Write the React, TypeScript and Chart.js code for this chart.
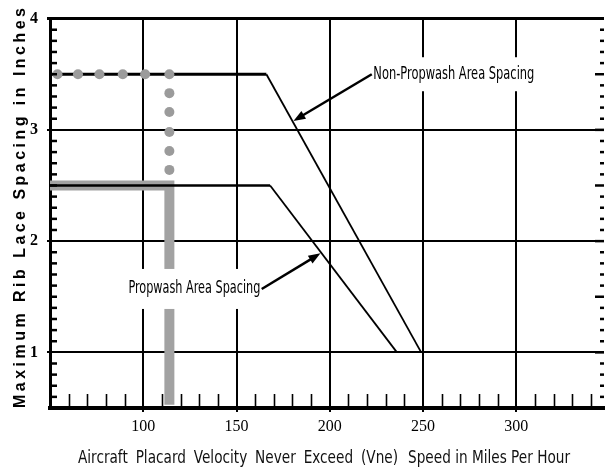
import React, { useEffect, useRef } from "react";
import { Chart, registerables } from "chart.js";

Chart.register(...registerables);

// ---- Axis definitions ----
const xTickValues = [100, 150, 200, 250, 300];
const yTickValues = [1, 2, 3, 4];
const xMin = 50;
const xMax = 347;
const yMin = 0.5;
const yMax = 4;

// ---- Series ----
const nonPropwashX = [50, 166, 249];
const nonPropwashY = [3.5, 3.5, 1];
const propwashX = [50, 168, 236];
const propwashY = [2.5, 2.5, 1];

// grey dotted guide (read-off example for non-propwash)
const guideDotsX = [54, 65, 76.5, 89, 101, 114, 114, 114, 114, 114, 114];
const guideDotsY = [3.5, 3.5, 3.5, 3.5, 3.5, 3.5, 3.33, 3.16, 2.98, 2.81, 2.64];
// grey solid guide (read-off example for propwash)
const guideBarX = [50, 114, 114];
const guideBarY = [2.5, 2.5, 0.53];

// ---- Annotations (data units) ----
const labelTexts = ["Non-Propwash Area Spacing", "Propwash Area Spacing"];
const labelCenterX = [266.5, 127.4];
const labelCenterY = [3.5, 1.57];
const arrowFromX = [222.5, 163.5];
const arrowFromY = [3.5, 1.57];
const arrowToX = [180.5, 195];
const arrowToY = [3.08, 1.89];

const xTitleA = "Aircraft Placard Velocity Never Exceed (Vne)";
const xTitleB = "Speed in Miles Per Hour";
const yTitle = "Maximum Rib Lace Spacing in Inches";

const NARROW = '"Liberation Sans Narrow", "DejaVu Sans Condensed", "Arial Narrow", sans-serif';

const pts = (xs: number[], ys: number[]) => xs.map((x, i) => ({ x, y: ys[i] }));

function drawFitted(ctx: CanvasRenderingContext2D, text: string, cx: number, cy: number, width: number, font: string) {
  ctx.save();
  ctx.font = font;
  const w = ctx.measureText(text).width;
  ctx.translate(cx, cy);
  ctx.scale(width / w, 1);
  ctx.textAlign = "center";
  ctx.textBaseline = "middle";
  ctx.fillStyle = "#000";
  ctx.fillText(text, 0, 0);
  ctx.restore();
}

function drawArrow(ctx: CanvasRenderingContext2D, x0: number, y0: number, x1: number, y1: number) {
  const ang = Math.atan2(y1 - y0, x1 - x0);
  const head = 12;
  const half = 4.5;
  ctx.save();
  ctx.strokeStyle = "#000";
  ctx.fillStyle = "#000";
  ctx.lineWidth = 2.5;
  ctx.beginPath();
  ctx.moveTo(x0, y0);
  ctx.lineTo(x1 - Math.cos(ang) * head * 0.8, y1 - Math.sin(ang) * head * 0.8);
  ctx.stroke();
  ctx.beginPath();
  ctx.moveTo(x1, y1);
  ctx.lineTo(x1 - Math.cos(ang) * head - Math.sin(ang) * half, y1 - Math.sin(ang) * head + Math.cos(ang) * half);
  ctx.lineTo(x1 - Math.cos(ang) * head + Math.sin(ang) * half, y1 - Math.sin(ang) * head - Math.cos(ang) * half);
  ctx.closePath();
  ctx.fill();
  ctx.restore();
}

const labelWidths = [161, 132];
const labelBoxPad = [
  { h: 4, v: 17 },
  { h: 3, v: 20 },
];

const decorPlugin = {
  id: "decor",
  afterDatasetsDraw(chart: any) {
    const ctx: CanvasRenderingContext2D = chart.ctx;
    const xs = chart.scales.x;
    const ys = chart.scales.y;
    const area = chart.chartArea;

    // minor ticks: bottom (every 10 mph)
    ctx.save();
    ctx.strokeStyle = "#000";
    ctx.lineWidth = 1.6;
    for (let v = 60; v < xMax; v += 10) {
      if (v % 50 === 0) continue;
      const px = Math.round(xs.getPixelForValue(v)) + 0.5;
      ctx.beginPath();
      ctx.moveTo(px, area.bottom);
      ctx.lineTo(px, area.bottom - 14);
      ctx.stroke();
    }
    // minor ticks: left & right (every 0.1 inch)
    for (let k = 6; k < 40; k++) {
      const v = k / 10;
      const py = ys.getPixelForValue(v);
      if (k % 10 !== 0) {
        ctx.lineWidth = 2.5;
        ctx.beginPath();
        ctx.moveTo(area.left, py);
        ctx.lineTo(area.left + 7, py);
        ctx.stroke();
      }
      const len = k % 5 === 0 ? 9 : 4;
      ctx.lineWidth = 2.5;
      ctx.beginPath();
      ctx.moveTo(area.right, py);
      ctx.lineTo(area.right - len, py);
      ctx.stroke();
    }
    ctx.restore();

    // annotation labels with white boxes and arrows
    labelTexts.forEach((t, i) => {
      const cx = xs.getPixelForValue(labelCenterX[i]);
      const cy = ys.getPixelForValue(labelCenterY[i]);
      const w = labelWidths[i];
      ctx.save();
      ctx.fillStyle = "#fff";
      ctx.fillRect(cx - w / 2 - labelBoxPad[i].h, cy - labelBoxPad[i].v, w + 2 * labelBoxPad[i].h, 2 * labelBoxPad[i].v);
      ctx.restore();
      drawFitted(ctx, t, cx, cy, w, `17px ${NARROW}`);
      drawArrow(
        ctx,
        xs.getPixelForValue(arrowFromX[i]),
        ys.getPixelForValue(arrowFromY[i]),
        xs.getPixelForValue(arrowToX[i]),
        ys.getPixelForValue(arrowToY[i])
      );
    });
  },
  afterDraw(chart: any) {
    const ctx: CanvasRenderingContext2D = chart.ctx;
    // y axis title: bold, widely letter-spaced, rotated
    ctx.save();
    ctx.fillStyle = "#000";
    ctx.font = 'bold 16px "Liberation Sans", Arial, sans-serif';
    const chars = Array.from(yTitle);
    const natural = chars.reduce((s, c) => s + ctx.measureText(c).width, 0);
    const total = 400;
    const spacing = (total - natural) / (chars.length - 1);
    ctx.translate(25, 408);
    ctx.rotate(-Math.PI / 2);
    ctx.textAlign = "left";
    ctx.textBaseline = "alphabetic";
    let pos = 0;
    for (const c of chars) {
      ctx.fillText(c, pos, 0);
      pos += ctx.measureText(c).width + spacing;
    }
    ctx.restore();

    // x axis title, narrow font, two parts
    ctx.save();
    ctx.fillStyle = "#111";
    ctx.font = `18px ${NARROW}`;
    ctx.textBaseline = "alphabetic";
    ctx.textAlign = "left";
    const baseline = 463;
    const bW = ctx.measureText(xTitleB).width;
    const sB = 162 / bW;
    ctx.save();
    ctx.translate(408, baseline);
    ctx.scale(sB, 1);
    ctx.fillText(xTitleB, 0, 0);
    ctx.restore();
    const words = xTitleA.split(" ");
    const wWidths = words.map((w) => ctx.measureText(w).width * sB);
    const sumW = wWidths.reduce((a, b) => a + b, 0);
    const gap = (398 - 78 - sumW) / (words.length - 1);
    let x = 78;
    words.forEach((w, i) => {
      ctx.save();
      ctx.translate(x, baseline);
      ctx.scale(sB, 1);
      ctx.fillText(w, 0, 0);
      ctx.restore();
      x += wWidths[i] + gap;
    });
    ctx.restore();
  },
};

export default function App() {
  const canvasRef = useRef<HTMLCanvasElement | null>(null);

  useEffect(() => {
    const canvas = canvasRef.current;
    if (!canvas) return;
    const chart = new Chart(canvas, {
      type: "scatter",
      data: {
        datasets: [
          {
            label: "Propwash read-off",
            data: pts(guideBarX, guideBarY),
            showLine: true,
            borderColor: "#a2a2a2",
            borderWidth: 10,
            pointRadius: 0,
            borderJoinStyle: "miter",
            borderCapStyle: "butt",
            order: 3,
          },
          {
            label: "Non-Propwash Area Spacing",
            data: pts(nonPropwashX, nonPropwashY),
            showLine: true,
            borderColor: "#000",
            borderWidth: 2,
            pointRadius: 0,
            order: 2,
            segment: {
              borderWidth: (c: any) => (c.p0.parsed.y === c.p1.parsed.y ? 3 : 1.8),
            },
          },
          {
            label: "Propwash Area Spacing",
            data: pts(propwashX, propwashY),
            showLine: true,
            borderColor: "#000",
            borderWidth: 2,
            pointRadius: 0,
            order: 2,
            segment: {
              borderWidth: (c: any) => (c.p0.parsed.y === c.p1.parsed.y ? 2.5 : 1.8),
            },
          },
          {
            label: "Non-Propwash read-off",
            data: pts(guideDotsX, guideDotsY),
            showLine: false,
            pointRadius: 5,
            pointBackgroundColor: "#9b9b9b",
            pointBorderWidth: 0,
            order: 1,
          },
        ],
      } as any,
      options: {
        animation: false,
        responsive: false,
        layout: { padding: { top: 15, left: 0, right: 0, bottom: 0 } },
        plugins: { legend: { display: false }, tooltip: { enabled: false } },
        scales: {
          x: {
            type: "linear",
            min: xMin,
            max: xMax,
            afterBuildTicks: (s: any) => {
              s.ticks = xTickValues.map((v) => ({ value: v }));
            },
            afterFit: (s: any) => {
              s.height = 62;
            },
            grid: { color: "#000", lineWidth: 2, tickLength: 4 },
            border: { color: "#000", width: 4 },
            ticks: {
              color: "#000",
              font: { family: '"Liberation Serif", "DejaVu Serif", serif', size: 16 },
              padding: 5,
              maxRotation: 0,
              autoSkip: false,
            },
          },
          y: {
            type: "linear",
            min: yMin,
            max: yMax,
            afterBuildTicks: (s: any) => {
              s.ticks = yTickValues.map((v) => ({ value: v }));
            },
            afterFit: (s: any) => {
              s.width = 50;
            },
            grid: {
              color: "#000",
              lineWidth: (c: any) => (c.tick && c.tick.value === 4 ? 3 : 2),
              tickLength: 3,
            },
            border: { color: "#000", width: 3 },
            ticks: {
              color: "#000",
              font: { family: '"Liberation Serif", "DejaVu Serif", serif', size: 16, weight: "bold" },
              padding: 9,
              autoSkip: false,
            },
          },
        },
      } as any,
      plugins: [decorPlugin],
    });
    return () => chart.destroy();
  }, []);

  return (
    <div style={{ position: "fixed", left: 0, top: 0, width: 609, height: 470, background: "#fff" }}>
      <canvas ref={canvasRef} width={609} height={470} style={{ display: "block" }} />
    </div>
  );
}
